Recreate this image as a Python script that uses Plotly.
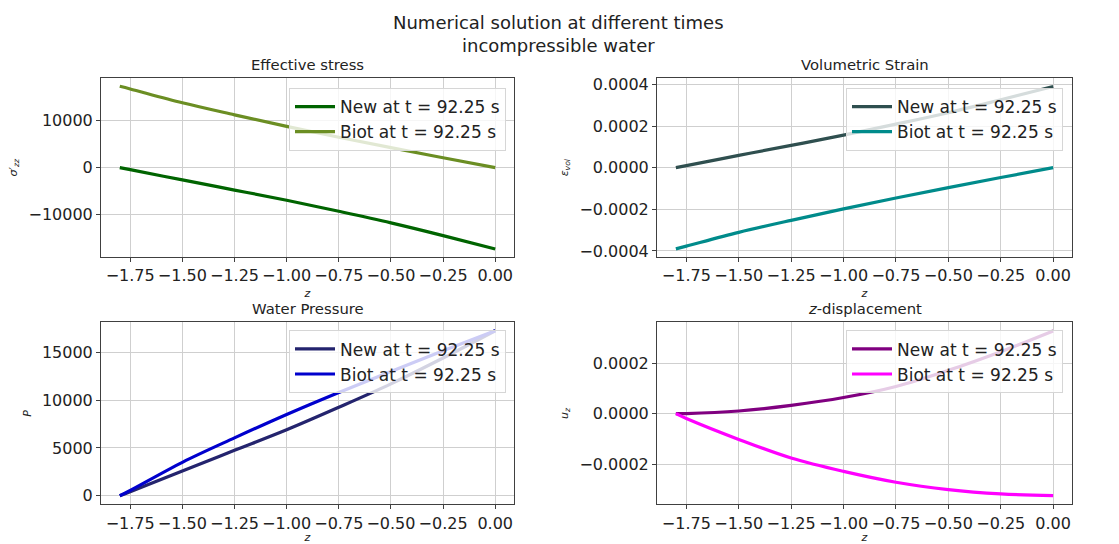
import plotly.graph_objects as go

# Depth coordinate of the column (m)
z = [-1.8, -1.75, -1.5, -1.25, -1.0, -0.75, -0.5, -0.25, 0.0]

# Effective stress sigma'_zz (Pa)
stress_new = [0, -420, -2600, -4750, -6900, -9250, -11700, -14400, -17250]
stress_biot = [17250, 16690, 13750, 11200, 8750, 6450, 4250, 2100, 0]

# Volumetric strain (-)
strain_new = [0.0, 0.0000095, 0.0000588, 0.000107, 0.000156, 0.000209, 0.000264, 0.000326, 0.00039]
strain_biot = [-0.00039, -0.000377, -0.000311, -0.000253, -0.000198, -0.000146, -0.0000961, -0.0000475, 0.0]

# Water pressure (Pa)
pressure_new = [0, 420, 2600, 4750, 6900, 9250, 11700, 14400, 17250]
pressure_biot = [0, 560, 3500, 6050, 8500, 10800, 13000, 15150, 17250]

# Vertical displacement (m)
disp_new = [0.0, 0.0000003, 0.0000106, 0.000033, 0.000064, 0.000108, 0.000172, 0.000246, 0.000328]
disp_biot = [0.0, -0.000019, -0.000102, -0.000176, -0.000229, -0.000272, -0.000301, -0.000318, -0.000325]

label_new = "New at t = 92.25 s"
label_biot = "Biot at t = 92.25 s"

x_ticks = [-1.75, -1.5, -1.25, -1.0, -0.75, -0.5, -0.25, 0.0]
x_ticktext = ["\u22121.75", "\u22121.50", "\u22121.25", "\u22121.00", "\u22120.75", "\u22120.50", "\u22120.25", "0.00"]

stress_ticks = [-10000, 0, 10000]
stress_ticktext = ["\u221210000", "0", "10000"]
strain_ticks = [-0.0004, -0.0002, 0.0, 0.0002, 0.0004]
strain_ticktext = ["\u22120.0004", "\u22120.0002", "0.0000", "0.0002", "0.0004"]
pressure_ticks = [0, 5000, 10000, 15000]
pressure_ticktext = ["0", "5000", "10000", "15000"]
disp_ticks = [-0.0002, 0.0, 0.0002]
disp_ticktext = ["\u22120.0002", "0.0000", "0.0002"]

FONT = "DejaVu Sans"
TEXT = "#222222"
W, H = 1119, 544

# panel boxes in pixels: (left, right, top, bottom)
boxes = [(101, 514, 76, 257), (657, 1072, 76, 257),
         (101, 514, 323, 507), (657, 1072, 323, 507)]

fig = go.Figure()

panels = [
    (stress_new, stress_biot, "#006400", "#6b8e23", "legend"),
    (strain_new, strain_biot, "#2f4f4f", "#008b8b", "legend2"),
    (pressure_new, pressure_biot, "#24246e", "#0000cd", "legend3"),
    (disp_new, disp_biot, "#800080", "#ff00ff", "legend4"),
]

for i, (ynew, ybiot, cnew, cbiot, leg) in enumerate(panels):
    suffix = "" if i == 0 else str(i + 1)
    fig.add_trace(go.Scatter(x=z, y=ynew, mode="lines", name=label_new,
                             line=dict(color=cnew, width=3.2, shape="spline"),
                             xaxis="x" + suffix, yaxis="y" + suffix, legend=leg))
    fig.add_trace(go.Scatter(x=z, y=ybiot, mode="lines", name=label_biot,
                             line=dict(color=cbiot, width=3.2, shape="spline"),
                             xaxis="x" + suffix, yaxis="y" + suffix, legend=leg))

axis_common = dict(showline=True, linecolor="#404040", linewidth=1, mirror=True,
                   ticks="outside", ticklen=4, tickcolor="#404040",
                   showgrid=True, gridcolor="#cfcfcf", gridwidth=1,
                   zeroline=False, tickfont=dict(family=FONT, size=16, color=TEXT))

y_specs = [
    ([-18975, 18975], stress_ticks, stress_ticktext, "<i>σ</i>′<sub><i>zz</i></sub>"),
    ([-0.00043, 0.00043], strain_ticks, strain_ticktext, "<i>ε</i><sub><i>vol</i></sub>"),
    ([-900, 18120], pressure_ticks, pressure_ticktext, "<i>P</i>"),
    ([-0.00036, 0.000362], disp_ticks, disp_ticktext, "<i>u</i><sub><i>z</i></sub>"),
]

layout = {}
for i, (box, ys) in enumerate(zip(boxes, y_specs)):
    l, r, t, b = box
    suffix = "" if i == 0 else str(i + 1)
    layout["xaxis" + suffix] = dict(
        axis_common, domain=[l / W, r / W], range=[-1.89, 0.09],
        anchor="y" + suffix, tickvals=x_ticks, ticktext=x_ticktext,
        title=dict(text="<i>z</i>", font=dict(family=FONT, size=11, color=TEXT), standoff=4))
    layout["yaxis" + suffix] = dict(
        axis_common, domain=[1 - b / H, 1 - t / H], range=ys[0],
        anchor="x" + suffix, tickvals=ys[1], ticktext=ys[2],
        title=dict(text=ys[3], font=dict(family=FONT, size=11, color=TEXT), standoff=8))

fig.update_layout(**layout)

# legends, one per panel
leg_pos = [(506, 86), (1063, 86), (506, 331), (1063, 331)]
for i, (xr, yt) in enumerate(leg_pos):
    key = "legend" if i == 0 else "legend" + str(i + 1)
    fig.update_layout({key: dict(x=xr / W, y=1 - yt / H, xanchor="right", yanchor="top",
                                 bgcolor="rgba(255,255,255,0.8)", bordercolor="#d6d6d6",
                                 borderwidth=1, itemwidth=40,
                                 font=dict(family=FONT, size=17, color=TEXT))})

# panel titles
titles = ["Effective stress", "Volumetric Strain", "Water Pressure", "<i>z</i>-displacement"]
for (l, r, t, b), txt in zip(boxes, titles):
    fig.add_annotation(text=txt, x=(l + r) / 2 / W, y=1 - (t - 3) / H, xref="paper", yref="paper",
                       xanchor="center", yanchor="bottom", showarrow=False,
                       font=dict(family=FONT, size=14.8, color=TEXT))

# figure heading
for txt, yc in [("Numerical solution at different times", 20), ("incompressible water", 43)]:
    fig.add_annotation(text=txt, x=558 / W, y=1 - yc / H, xref="paper", yref="paper",
                       xanchor="center", yanchor="middle", showarrow=False,
                       font=dict(family=FONT, size=18, color=TEXT))

fig.update_layout(
    width=W, height=H, margin=dict(l=0, r=0, t=0, b=0),
    paper_bgcolor="white", plot_bgcolor="white",
    font=dict(family=FONT, color=TEXT),
)

fig.write_html("out.html")
